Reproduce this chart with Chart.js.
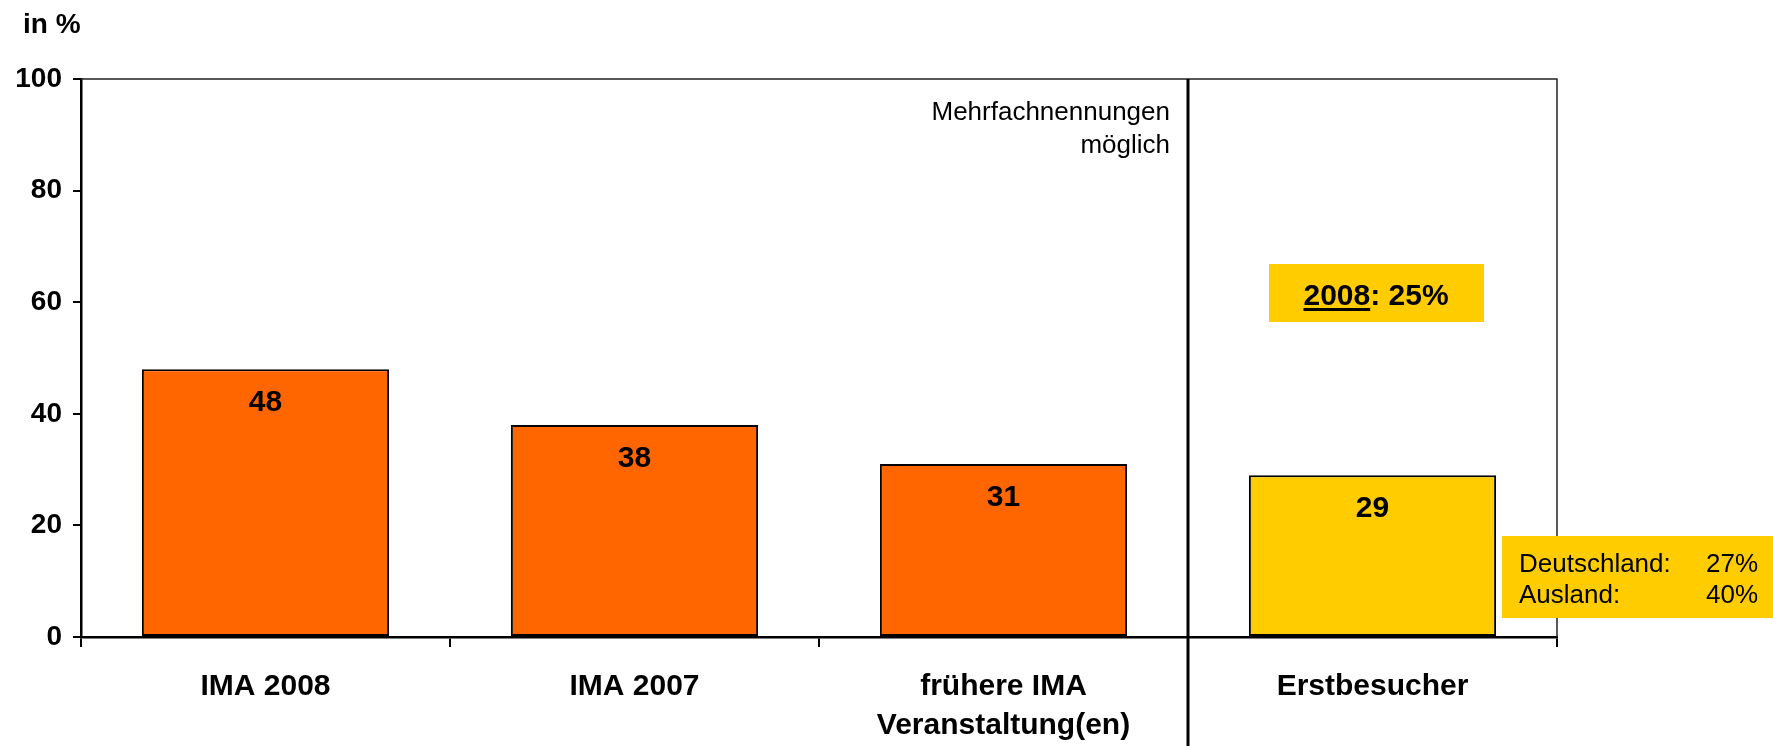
<!DOCTYPE html>
<html lang="de">
<head>
<meta charset="utf-8">
<title>IMA Besucher</title>
<script src="https://cdn.jsdelivr.net/npm/chart.js@4/dist/chart.umd.min.js"></script>
<style>
    html, body { margin: 0; padding: 0; background: #fff; }
    #wrap { width: 1773px; height: 746px; position: relative; }
</style>
</head>
<body>
<div id="wrap"><canvas id="chartMain"></canvas></div>
<script>
    // Daten
    const categories = ['IMA 2008', 'IMA 2007', ['frühere IMA', 'Veranstaltung(en)'], 'Erstbesucher'];
    const values = [48, 38, 31, 29];
    const barColors = ['#FF6600', '#FF6600', '#FF6600', '#FFCC00'];
    const yTicks = [0, 20, 40, 60, 80, 100];

    const fontFamily = '"Liberation Sans", Arial, sans-serif';
    const orangeBox = '#FFCC00';

    // Rahmen, Trennlinie, Werte und Hinweise
    const extras = {
        id: 'extras',
        afterDatasetsDraw(chart) {
            const ctx = chart.ctx;
            const area = chart.chartArea;
            const x = chart.scales.x;

            ctx.save();

            // Rahmen oben / rechts
            ctx.strokeStyle = '#222';
            ctx.lineWidth = 1.5;
            ctx.beginPath();
            ctx.moveTo(area.left, area.top);
            ctx.lineTo(area.right, area.top);
            ctx.lineTo(area.right, area.bottom);
            ctx.stroke();

            // Trennlinie vor "Erstbesucher"
            const sep = (x.getPixelForValue(2) + x.getPixelForValue(3)) / 2;
            ctx.strokeStyle = '#000';
            ctx.lineWidth = 3;
            ctx.beginPath();
            ctx.moveTo(sep, area.top);
            ctx.lineTo(sep, chart.height);
            ctx.stroke();

            // Werte in den Balken
            ctx.fillStyle = '#000';
            ctx.font = 'bold 30px ' + fontFamily;
            ctx.textAlign = 'center';
            ctx.textBaseline = 'middle';
            chart.getDatasetMeta(0).data.forEach(function (bar, i) {
                ctx.fillText(String(values[i]), bar.x, bar.y + 34);
            });

            // in %
            ctx.textAlign = 'left';
            ctx.textBaseline = 'alphabetic';
            ctx.font = 'bold 28px ' + fontFamily;
            ctx.fillText('in %', 23, 33);

            // Mehrfachnennungen
            ctx.font = '26px ' + fontFamily;
            ctx.textAlign = 'right';
            ctx.fillText('Mehrfachnennungen', sep - 18, 120);
            ctx.fillText('möglich', sep - 18, 153);

            // 2008: 25%
            ctx.fillStyle = orangeBox;
            ctx.fillRect(1269, 264, 215, 58);
            ctx.fillStyle = '#000';
            ctx.font = 'bold 30px ' + fontFamily;
            ctx.textAlign = 'left';
            const t1 = '2008';
            const t2 = ': 25%';
            const w1 = ctx.measureText(t1).width;
            const w2 = ctx.measureText(t2).width;
            const tx = 1376 - (w1 + w2) / 2;
            ctx.fillText(t1, tx, 305);
            ctx.fillText(t2, tx + w1, 305);
            ctx.fillRect(tx, 308, w1, 3);

            // Deutschland / Ausland
            ctx.fillStyle = orangeBox;
            ctx.fillRect(1502, 536, 271, 82);
            ctx.fillStyle = '#000';
            ctx.font = '26px ' + fontFamily;
            ctx.textAlign = 'left';
            ctx.fillText('Deutschland:', 1519, 572);
            ctx.fillText('Ausland:', 1519, 603);
            ctx.textAlign = 'right';
            ctx.fillText('27%', 1758, 572);
            ctx.fillText('40%', 1758, 603);

            ctx.restore();
        },
    };

    new Chart(document.getElementById('chartMain'), {
        type: 'bar',
        data: {
            labels: categories,
            datasets: [
                {
                    data: values,
                    backgroundColor: barColors,
                    borderColor: '#000',
                    borderWidth: 2,
                    borderSkipped: false,
                    categoryPercentage: 1,
                    barPercentage: 0.67,
                },
            ],
        },
        options: {
            responsive: true,
            maintainAspectRatio: false,
            animation: false,
            layout: { padding: { top: 79, right: 216, left: 0, bottom: 0 } },
            plugins: {
                legend: { display: false },
                tooltip: { enabled: false },
            },
            scales: {
                x: {
                    afterFit(scale) { scale.height = 109; },
                    border: { display: true, color: '#000', width: 2.5 },
                    grid: {
                        drawOnChartArea: false,
                        drawTicks: true,
                        tickLength: 10,
                        color: '#000',
                        lineWidth: 2,
                        offset: true,
                    },
                    ticks: {
                        color: '#000',
                        padding: 20,
                        maxRotation: 0,
                        autoSkip: false,
                        font: { family: fontFamily, size: 30, weight: 'bold', lineHeight: 1.3 },
                    },
                },
                y: {
                    min: yTicks[0],
                    max: yTicks[yTicks.length - 1],
                    afterFit(scale) { scale.width = 81; },
                    afterBuildTicks(scale) {
                        scale.ticks = yTicks.map(function (v) { return { value: v }; });
                    },
                    border: { display: true, color: '#000', width: 2.5 },
                    grid: {
                        drawOnChartArea: false,
                        drawTicks: true,
                        tickLength: 8,
                        color: '#000',
                        lineWidth: 2,
                    },
                    ticks: {
                        color: '#000',
                        padding: 11,
                        font: { family: fontFamily, size: 28, weight: 'bold' },
                    },
                },
            },
        },
        plugins: [extras],
    });
</script>
</body>
</html>
